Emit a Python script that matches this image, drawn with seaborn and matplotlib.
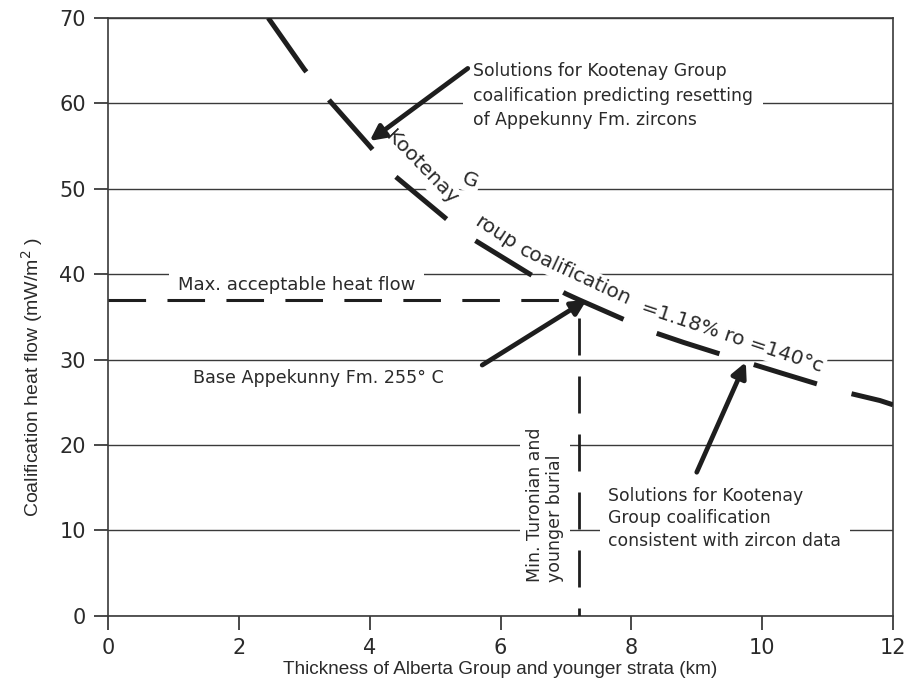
import numpy as np
import pandas as pd
import matplotlib
matplotlib.use("Agg")
import matplotlib.pyplot as plt
import seaborn as sns

# Coalification curve: Kootenay Group coalification = 1.18% Ro (~140 °C)
curve_thickness_km = [2.45, 3.0, 3.4, 4.0, 4.4, 5.2, 5.6, 6.45, 7.0, 7.2,
                      8.3, 8.8, 9.75, 10.3, 11.2, 11.8, 12.0]
curve_heat_flow = [70.0, 64.0, 60.2, 55.0, 51.4, 46.3, 44.0, 40.0, 37.7, 37.0,
                   33.3, 32.0, 29.7, 28.4, 26.3, 25.2, 24.7]

# Limits
max_heat_flow = 37.0          # mW/m^2, max. acceptable heat flow
min_burial_km = 7.2           # km, min. Turonian and younger burial
solution_consistent = (9.75, 29.7)
solution_resetting = (4.0, 55.6)

x_ticks = [0, 2, 4, 6, 8, 10, 12]
y_ticks = [0, 10, 20, 30, 40, 50, 60, 70]

ink = "#2a2a2a"
sns.set_style("ticks")
plt.rcParams["font.family"] = ["Liberation Sans", "DejaVu Sans"]

fig = plt.figure(figsize=(9.05, 6.8), dpi=100)
ax = fig.add_axes([108 / 905, 1 - 615.7 / 680, 785 / 905, 597.7 / 680])

line_kw = dict(ax=ax, sort=False, estimator=None, errorbar=None, color="#1e1e1e", zorder=4)

curve = pd.DataFrame({"thickness": curve_thickness_km, "heat_flow": curve_heat_flow})
sns.lineplot(data=curve, x="thickness", y="heat_flow", lw=3.6, **line_kw)
ax.get_lines()[-1].set_linestyle((0, (13.2, 7.2)))

# Max. acceptable heat flow (horizontal dashed)
hline = pd.DataFrame({"x": [0, min_burial_km], "y": [max_heat_flow, max_heat_flow]})
sns.lineplot(data=hline, x="x", y="y", lw=2.2, **line_kw)
ax.get_lines()[-1].set_linestyle((0, (12.3, 7.0)))

# Minimum burial (vertical dashed)
vline = pd.DataFrame({"x": [min_burial_km, min_burial_km], "y": [max_heat_flow, 0]})
sns.lineplot(data=vline, x="x", y="y", lw=2.0, **line_kw)
ax.get_lines()[-1].set_linestyle((14.4, (13.32, 7.56)))

ax.set_xlim(0, 12)
ax.set_ylim(0, 70)
ax.set_xticks(x_ticks)
ax.set_yticks(y_ticks)
ax.yaxis.grid(True, color="#3a3a3a", lw=1.0)
ax.xaxis.grid(False)
ax.set_axisbelow(True)

for s in ax.spines.values():
    s.set_color("#3a3a3a")
    s.set_linewidth(1.2)
ax.tick_params(axis="both", direction="out", length=10, width=1.3, colors="#3a3a3a",
               labelcolor=ink, labelsize=15, pad=6)
for lab in ax.get_xticklabels() + ax.get_yticklabels():
    lab.set_family(["DejaVu Sans"])

ax.set_xlabel("Thickness of Alberta Group and younger strata (km)", fontsize=13.7,
              color=ink, labelpad=2)
ax.set_ylabel("Coalification heat flow (mW/m$^{2}$ )", fontsize=14, color=ink)
ax.yaxis.set_label_coords(-0.080, 0.40)

ann_font = ["DejaVu Sans"]
box = lambda p: dict(boxstyle=f"square,pad={p}", fc="white", ec="none")

ax.text(5.58, 60.9, "Solutions for Kootenay Group\ncoalification predicting resetting\nof Appekunny Fm. zircons",
        family=ann_font, fontsize=12.4, color=ink, ha="left", va="center", linespacing=1.45,
        bbox=box(0.6), zorder=3)
ax.text(1.07, 38.7, "Max. acceptable heat flow", family=ann_font, fontsize=13, color=ink,
        ha="left", va="center", bbox=box(0.5), zorder=3)
ax.text(1.3, 27.8, "Base Appekunny Fm. 255° C", family=ann_font, fontsize=12.6, color=ink,
        ha="left", va="center", zorder=3)
ax.text(7.65, 11.4, "Solutions for Kootenay\nGroup coalification\nconsistent with zircon data",
        family=ann_font, fontsize=12.4, color=ink, ha="left", va="center", linespacing=1.3,
        bbox=box(0.5), zorder=3)
ax.text(6.68, 13.0, "Min. Turonian and\nyounger burial", family=ann_font, fontsize=12.5,
        color=ink, rotation=90, ha="center", va="center", multialignment="left",
        linespacing=1.15, bbox=box(0.35), zorder=3)

# Curve label set along the dashed line
curve_label = [("Kootenay", 4.79, 52.5, -46), ("G", 5.54, 51.0, -20),
               ("roup", 5.93, 44.9, -33), ("coalification", 7.14, 39.9, -25),
               ("=1.18% ro =140°c", 9.54, 32.6, -18.4)]
for txt, x, y, rot in curve_label:
    ax.text(x, y, txt, family=ann_font, fontsize=14.5, color=ink, rotation=rot,
            rotation_mode="anchor", ha="center", va="center", bbox=box(0.12), zorder=3)

arrow = dict(arrowstyle="-|>,head_length=0.9,head_width=0.45", color="#1e1e1e", lw=3.4,
             shrinkA=0, shrinkB=0)
ax.annotate("", xy=solution_resetting, xytext=(5.50, 64.1), arrowprops=arrow, zorder=5)
ax.annotate("", xy=(7.32, max_heat_flow), xytext=(5.72, 29.35), arrowprops=arrow, zorder=5)
ax.annotate("", xy=solution_consistent, xytext=(9.0, 16.8), arrowprops=arrow, zorder=5)

fig.savefig("out.png", dpi=100)
